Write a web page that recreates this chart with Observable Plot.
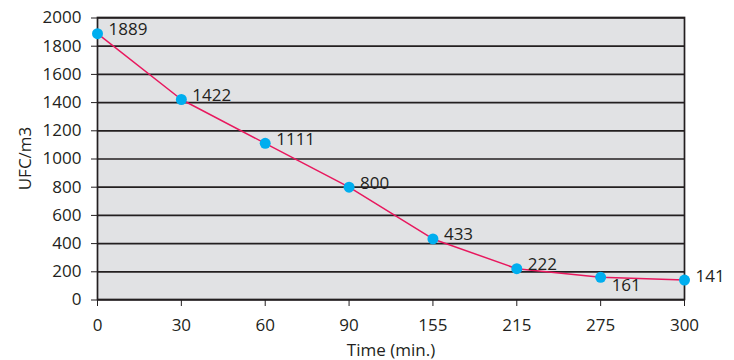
<!DOCTYPE html>
<html>
<head>
<meta charset="utf-8">
<script src="https://cdn.jsdelivr.net/npm/d3@7"></script>
<script src="https://cdn.jsdelivr.net/npm/@observablehq/plot@0.6"></script>
<style>
  html, body { margin: 0; padding: 0; background: #fff; }
  #chart svg { display: block; }
</style>
</head>
<body>
<div id="chart"></div>
<script>
const times = ["0", "30", "60", "90", "155", "215", "275", "300"];
const ufc = [1889, 1422, 1111, 800, 433, 222, 161, 141];
const yTicks = [0, 200, 400, 600, 800, 1000, 1200, 1400, 1600, 1800, 2000];
const belowLabels = ["275"];

const data = times.map((t, i) => ({time: t, value: ufc[i]}));
const above = data.filter(d => !belowLabels.includes(d.time));
const below = data.filter(d => belowLabels.includes(d.time));

const ink = "#231f20";
const font = "'Open Sans', sans-serif";

const chart = Plot.plot({
  width: 734,
  height: 360,
  marginLeft: 97,
  marginRight: 50,
  marginTop: 17,
  marginBottom: 61,
  style: {fontFamily: font, fontSize: "17px", color: ink, background: "#fff"},
  x: {type: "point", domain: times, range: [97, 684], padding: 0, round: false},
  y: {domain: [0, 2000], range: [299.5, 17.5]},
  marks: [
    Plot.frame({fill: "#e1e2e4", stroke: null}),
    Plot.ruleY(yTicks, {stroke: ink, strokeWidth: 1.7}),
    Plot.frame({stroke: ink, strokeWidth: 1.7}),
    Plot.axisY({ticks: yTicks, tickFormat: d => String(d), tickSize: 6, tickPadding: 10, stroke: ink, fill: ink, fontSize: 17,
      label: "UFC/m3", labelAnchor: "center", labelArrow: "none", labelOffset: 79}),
    Plot.axisX({tickSize: 7, tickPadding: 12, stroke: ink, fill: ink, fontSize: 17,
      label: "Time (min.)", labelAnchor: "center", labelArrow: "none", labelOffset: 56}),
    Plot.line(data, {x: "time", y: "value", stroke: "#e8185e", strokeWidth: 1.5}),
    Plot.dot(data, {x: "time", y: "value", r: 5.5, fill: "#00aeef", stroke: null}),
    Plot.text(above, {x: "time", y: "value", text: d => String(d.value), textAnchor: "start",
      dx: 11, dy: -4, fill: ink, fontSize: 17}),
    Plot.text(below, {x: "time", y: "value", text: d => String(d.value), textAnchor: "start",
      dx: 11, dy: 8, fill: ink, fontSize: 17})
  ]
});
document.getElementById("chart").appendChild(chart);
</script>
</body>
</html>
